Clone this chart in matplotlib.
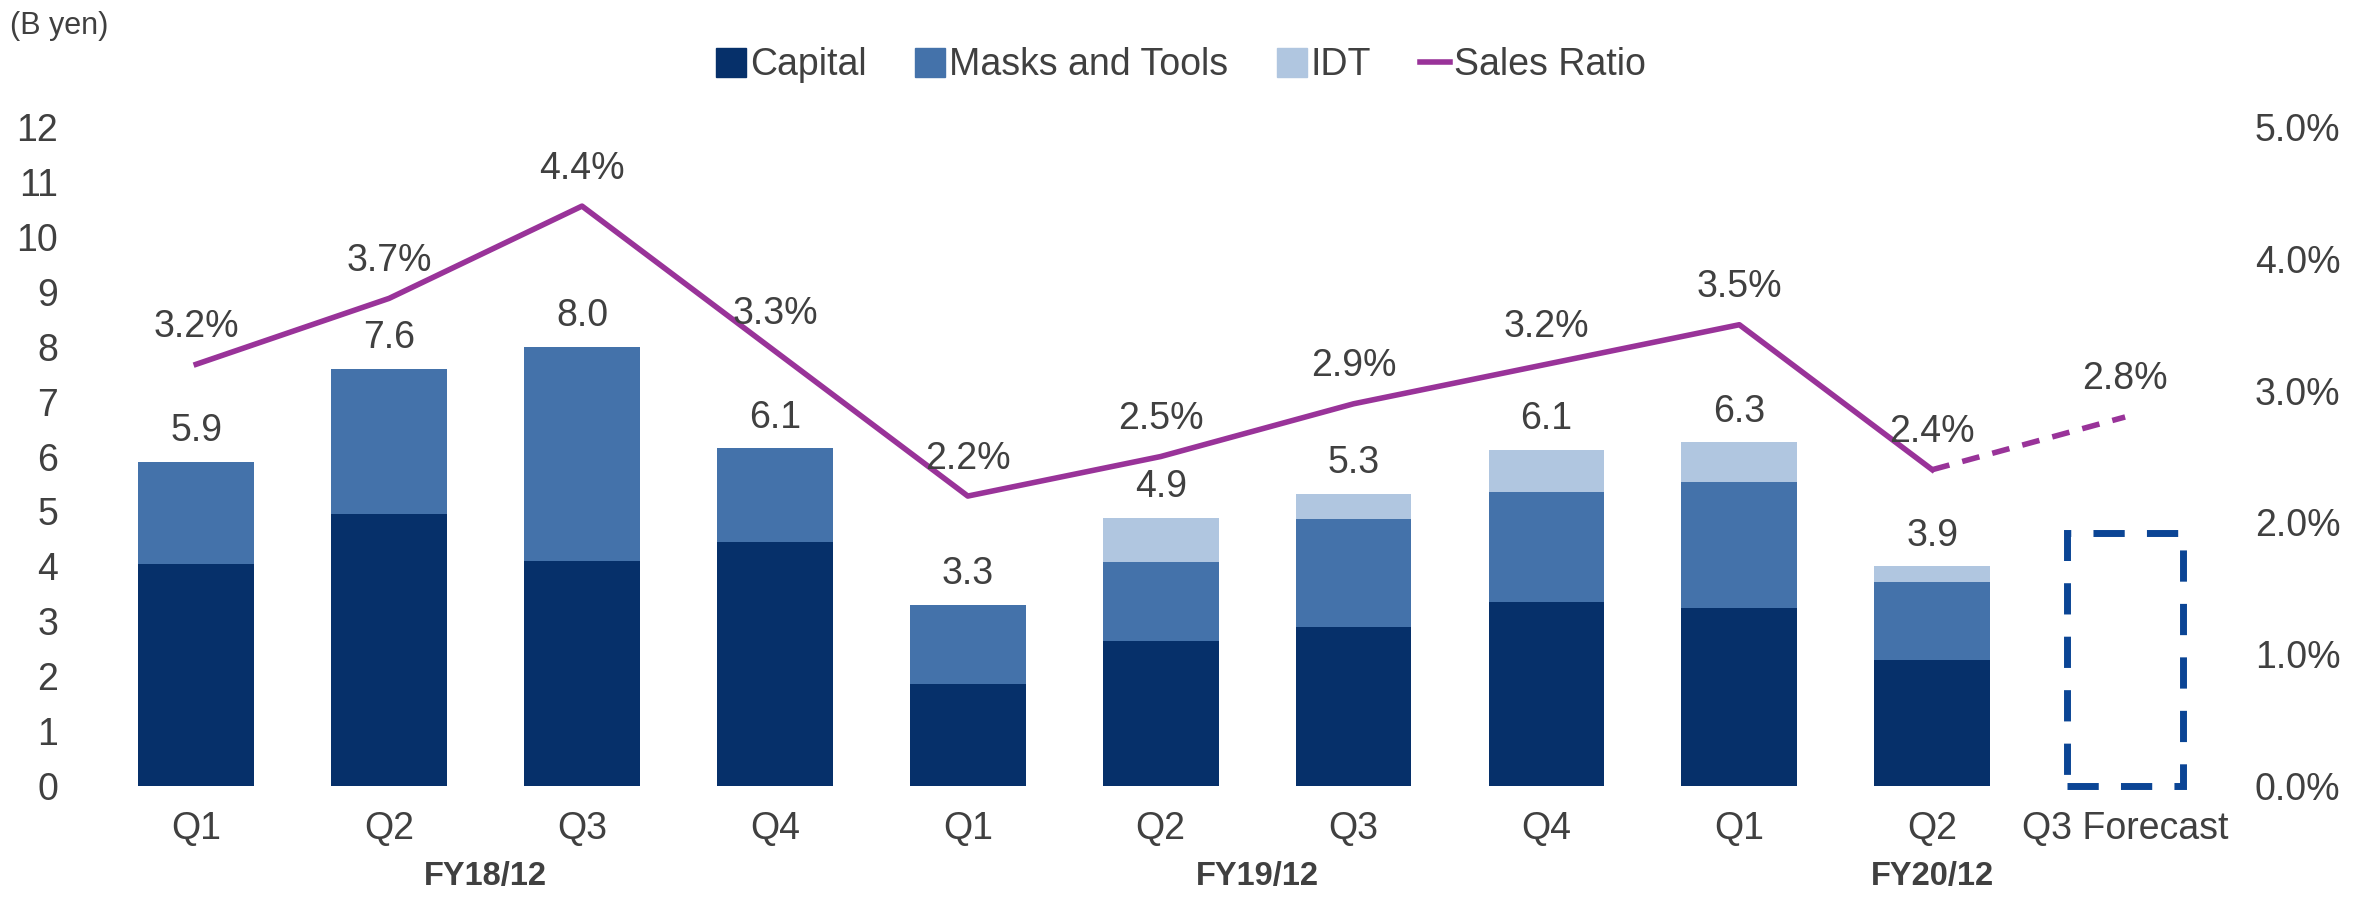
import numpy as np
import matplotlib.pyplot as plt
from matplotlib.patches import Patch
from matplotlib.lines import Line2D
from matplotlib.ticker import FuncFormatter

plt.rcParams['font.family'] = ['Liberation Sans', 'DejaVu Sans']

# values
quarters = ["Q1", "Q2", "Q3", "Q4", "Q1", "Q2", "Q3", "Q4", "Q1", "Q2", "Q3 Forecast"]
capital = [4.05, 4.95, 4.1, 4.45, 1.85, 2.65, 2.9, 3.35, 3.25, 2.3]
masks = [1.85, 2.65, 3.9, 1.7, 1.45, 1.43, 1.96, 2.0, 2.29, 1.42]
idt = [0.0, 0.0, 0.0, 0.0, 0.0, 0.8, 0.46, 0.77, 0.72, 0.28]
total_labels = ["5.9", "7.6", "8.0", "6.1", "3.3", "4.9", "5.3", "6.1", "6.3", "3.9"]
sales_ratio = [3.2, 3.7, 4.4, 3.3, 2.2, 2.5, 2.9, 3.2, 3.5, 2.4, 2.8]
forecast_box = 4.6
fy_labels = ["FY18/12", "FY19/12", "FY20/12"]
fy_pos = [1.5, 5.5, 9]

c_cap = "#06306a"
c_mask = "#4472aa"
c_idt = "#b0c6e0"
c_line = "#993399"
c_box = "#0b4595"
txt = "#404040"
fs = 27

fig = plt.figure(figsize=(23.76, 8.97), dpi=100)
ax = fig.add_axes([0.042, 0.1237, 0.893, 0.7347])
ax2 = ax.twinx()

x = np.arange(len(capital))
cap = np.array(capital)
msk = np.array(masks)
idt_a = np.array(idt)
w = 0.6
ax.bar(x, cap, w, color=c_cap, zorder=2)
ax.bar(x, msk, w, bottom=cap, color=c_mask, zorder=2)
ax.bar(x, idt_a, w, bottom=cap + msk, color=c_idt, zorder=2)
tops = cap + msk + idt_a
for xi, t, lab in zip(x, tops, total_labels):
    ax.annotate(lab, (xi, t), xytext=(0, 22), textcoords="offset points",
                ha="center", va="center", fontsize=fs, color=txt)

# forecast placeholder
box = ax.bar([10], [forecast_box], w, fill=False, edgecolor=c_box, linewidth=5,
             linestyle=(0, (4.5, 3.2)), zorder=2)
for p in box:
    p.set_clip_on(False)

ax.set_xlim(-0.5, 10.5)
ax.set_ylim(0, 12)
ax.set_yticks(range(0, 13))
ax.set_xticks(np.arange(len(quarters)))
ax.set_xticklabels(quarters)
ax.tick_params(axis="both", length=0, labelsize=fs, labelcolor=txt)
ax.tick_params(axis="y", pad=30)
ax.tick_params(axis="x", pad=18)
for s in ax.spines.values():
    s.set_visible(False)

for xf, lab in zip(fy_pos, fy_labels):
    ax.text(xf, -1.65, lab, ha="center", va="center", fontsize=23.5,
            fontweight="bold", color=txt, clip_on=False)

sr = np.array(sales_ratio)
xs = np.arange(len(sr))
ax2.plot(xs[:10], sr[:10], color=c_line, lw=4, zorder=3)
ax2.plot(xs[9:], sr[9:], color=c_line, lw=4, linestyle=(0, (3.2, 2.4)), zorder=3)
for xi, v in zip(xs, sr):
    ax2.annotate(f"{v:.1f}%", (xi, v), xytext=(0, 27), textcoords="offset points",
                 ha="center", va="center", fontsize=fs, color=txt)
ax2.set_ylim(0, 5)
ax2.set_yticks(np.arange(0, 5.1, 1))
ax2.yaxis.set_major_formatter(FuncFormatter(lambda v, p: f"{v:.1f}%"))
ax2.tick_params(axis="y", length=0, labelsize=fs, labelcolor=txt, pad=24)
for s in ax2.spines.values():
    s.set_visible(False)

handles = [Patch(color=c_cap), Patch(color=c_mask), Patch(color=c_idt),
           Line2D([], [], color=c_line, lw=4)]
fig.legend(handles, ["Capital", "Masks and Tools", "IDT", "Sales Ratio"],
           loc="center", bbox_to_anchor=(0.497, 0.927), ncol=4, frameon=False,
           fontsize=fs, handlelength=0.8, handleheight=0.8, handletextpad=0.1,
           columnspacing=1.3, labelcolor=txt)

fig.text(0.004, 0.971, "(B yen)", fontsize=22, color=txt, va="center", ha="left")

fig.savefig("out.png", dpi=100)
